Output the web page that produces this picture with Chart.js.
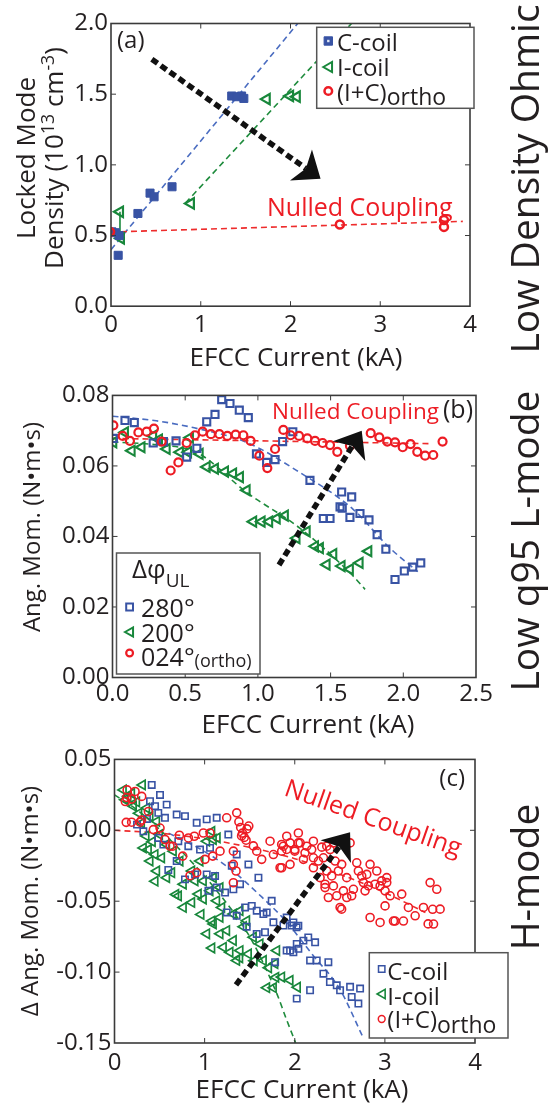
<!DOCTYPE html>
<html>
<head>
<meta charset="utf-8">
<script src="https://cdn.jsdelivr.net/npm/chart.js@4.4.1/dist/chart.umd.min.js"></script>
<style>
    body { margin: 0; background: #fff; width: 553px; height: 1106px; position: relative; overflow: hidden; font-family: "Open Sans", "Noto Sans", sans-serif; color: #231f20; }
    canvas { position: absolute; left: 0; }
    .rot { position: absolute; transform: translate(-50%, -50%) rotate(-90deg); white-space: nowrap; line-height: 1; }
    .sup { font-size: 0.68em; position: relative; top: -0.5em; }
</style>
</head>
<body>
<canvas id="chartA" width="553" height="378" style="top:0"></canvas>
<canvas id="chartB" width="553" height="364" style="top:378px"></canvas>
<canvas id="chartC" width="553" height="364" style="top:742px"></canvas>

<div class="rot" style="left:25px;top:158px;font-size:26px">Locked Mode</div>
<div class="rot" style="left:53px;top:158px;font-size:26px">Density (10<span class="sup">13</span> cm<span class="sup">-3</span>)</div>
<div class="rot" style="left:31px;top:527px;font-size:24px">Ang. Mom. (N&#8226;m&#8226;s)</div>
<div class="rot" style="left:29px;top:901px;font-size:24px">&Delta; Ang. Mom. (N&#8226;m&#8226;s)</div>

<div class="rot" style="left:523px;top:179px;font-size:39px">Low Density Ohmic</div>
<div class="rot" style="left:523px;top:541px;font-size:39px">Low q95 L-mode</div>
<div class="rot" style="left:523px;top:877px;font-size:39px">H-mode</div>

<script>
// ---- panel (a): locked mode density, low density ohmic ----
const aTicksX = [0, 1, 2, 3, 4];
const aTicksY = [0, 0.5, 1.0, 1.5, 2.0];
const aCcoil = [[0.01,0.526],[0.05,0.52],[0.09,0.50],[0.08,0.36],[0.30,0.656],[0.435,0.80],[0.48,0.774],[0.68,0.845],
    [1.345,1.487],[1.40,1.482],[1.455,1.487],[1.48,1.47]];
const aIcoil = [[0.10,0.668],[0.11,0.48],[0.89,0.727],[1.735,1.465],[1.995,1.487],[2.07,1.482]];
const aIcoilErr = [[0.10,0.668],[0.10,0.47]];
const aOrtho = [[-0.01,0.526],[2.55,0.578],[3.71,0.609],[3.71,0.561]];
const aFitC = [[0,0.40],[2.08,2.0]];
const aFitI = [[0.83,0.73],[2.68,2.0]];
const aFitO = [[0,0.525],[3.92,0.60]];
const aArrow = [[0.455,1.747],[2.335,0.901]];

// ---- panel (b): angular momentum, low q95 L-mode ----
const bTicksX = [0, 0.5, 1.0, 1.5, 2.0, 2.5];
const bTicksY = [0, 0.02, 0.04, 0.06, 0.08];
const b280 = [[0.006,0.0678],[0.086,0.0729],[0.15,0.0723],[0.28,0.0665],[0.35,0.0669],[0.437,0.0671],[0.51,0.0625],
    [0.58,0.065],[0.648,0.0725],[0.705,0.0746],[0.751,0.0788],[0.808,0.0777],[0.872,0.0758],[0.934,0.0737],
    [0.99,0.0634],[1.06,0.061],[1.118,0.0618],[1.17,0.0669],[1.24,0.0697],[1.358,0.0559],[1.45,0.0451],
    [1.496,0.0451],[1.576,0.0526],[1.645,0.0512],[1.565,0.0484],[1.58,0.048],[1.633,0.0454],[1.702,0.0465],
    [1.764,0.0447],[1.82,0.0405],[1.88,0.0364],[1.943,0.0278],[2.007,0.0302],[2.065,0.0313],[2.12,0.0325]];
const b200 = [[0.006,0.0667],[0.086,0.0695],[0.132,0.0643],[0.2,0.0653],[0.28,0.0685],[0.32,0.0675],[0.373,0.0648],
    [0.464,0.0639],[0.52,0.0639],[0.533,0.068],[0.6,0.0634],[0.648,0.0597],[0.705,0.0592],[0.774,0.0584],
    [0.83,0.0578],[0.877,0.0568],[0.923,0.0531],[0.968,0.0442],[1.026,0.0442],[1.078,0.0442],[1.13,0.0451],
    [1.186,0.0459],[1.266,0.0395],[1.336,0.0414],[1.393,0.0372],[1.427,0.0367],[1.473,0.032],[1.519,0.035],
    [1.576,0.0316],[1.633,0.0307],[1.70,0.0325],[1.76,0.0358]];
const b024 = [[0.006,0.0715],[0.07,0.0685],[0.12,0.0671],[0.178,0.0695],[0.235,0.0697],[0.285,0.0706],[0.338,0.0669],
    [0.4,0.0587],[0.453,0.061],[0.51,0.0665],[0.567,0.0687],[0.62,0.0697],[0.677,0.069],[0.735,0.069],[0.79,0.0685],
    [0.847,0.0689],[0.9,0.0687],[0.95,0.0671],[1.01,0.0629],[1.065,0.0594],[1.118,0.0648],[1.175,0.0702],
    [1.225,0.0687],[1.283,0.0685],[1.34,0.0678],[1.393,0.0671],[1.445,0.0665],[1.496,0.0659],[1.546,0.064],
    [1.633,0.0657],[1.776,0.0693],[1.835,0.0681],[1.89,0.0669],[1.943,0.0667],[1.996,0.0653],[2.05,0.0662],
    [2.096,0.064],[2.15,0.0629],[2.206,0.0631],[2.27,0.0669]];
const bFit280 = [[0,0.0741],[0.3,0.0728],[0.562,0.0708],[0.926,0.0666],[1.29,0.0581],[1.655,0.0477],[1.9,0.037],[2.1,0.030]];
const bFit200 = [[0,0.0668],[0.3,0.066],[0.58,0.0638],[0.926,0.0524],[1.29,0.0423],[1.645,0.0292],[1.737,0.025]];
const bFit024 = [[0,0.0678],[2.2,0.0663]];
const bArrow = [[1.145,0.0319],[1.714,0.070]];

// ---- panel (c): change of angular momentum, H-mode ----
const cTicksX = [0, 1, 2, 3, 4];
const cTicksY = [-0.15, -0.10, -0.05, 0, 0.05];
const cCcoil = [[0.413,0.032],[0.505,0.0249],[0.394,0.0205],[0.45,0.017],[0.579,0.0181],[0.486,0.0123],[0.56,0.0088],
    [0.69,0.0111],[0.782,0.01],[0.912,0.0053],[1.023,0.0077],[1.134,0.0088],[0.32,-0.0007],[0.486,-0.0054],
    [0.542,-0.0101],[0.708,-0.0077],[0.819,-0.0112],[0.949,-0.0136],[1.06,-0.0124],[0.597,-0.028],[0.69,-0.0217],
    [0.782,-0.0346],[0.894,-0.0311],[1.023,-0.0311],[1.116,-0.0322],[1.263,-0.003],[1.356,-0.017],[1.301,-0.025],
    [1.486,-0.0241],[1.597,-0.0334],[1.042,-0.0427],[1.134,-0.0404],[1.227,-0.0439],[1.319,-0.0416],[1.393,-0.038],
    [1.245,-0.0579],[1.356,-0.0603],[1.449,-0.0544],[1.523,-0.0533],[1.578,-0.0567],[1.652,-0.0591],[1.689,-0.0579],
    [1.744,-0.0497],[1.467,-0.068],[1.578,-0.0731],[1.67,-0.0719],[1.763,-0.0649],[1.874,-0.0672],[1.966,-0.0672],
    [2.02,-0.0684],[1.948,-0.0848],[2.022,-0.0801],[1.782,-0.093],[2.022,-0.1187],[1.91,-0.0615],[1.985,-0.065],
    [2.04,-0.0673],[1.91,-0.0848],[1.985,-0.086],[2.04,-0.0836],[2.096,-0.0778],[2.15,-0.0755],[2.226,-0.079],
    [2.17,-0.0918],[2.244,-0.0918],[2.318,-0.1011],[2.373,-0.093],[2.39,-0.107],[2.466,-0.1093],[2.503,-0.1128],
    [2.614,-0.1104],[2.725,-0.1116],[2.632,-0.1175],[2.706,-0.1222],[2.17,-0.1128],[0.25,0.004],[0.36,0.008]];
const cIcoil = [[0.098,0.0285],[0.19,0.026],[0.31,0.032],[0.117,0.0215],[0.246,0.02],[0.357,0.0157],[0.394,0.0098],
    [0.468,0.0063],[0.32,-0.0124],[0.376,-0.0136],[0.45,-0.0171],[0.523,-0.0194],[0.394,-0.0217],[0.579,-0.01],
    [0.653,-0.0147],[0.727,-0.0217],[0.468,-0.0287],[0.579,-0.0334],[0.635,-0.0299],[0.45,-0.0359],[0.71,-0.0463],
    [0.764,-0.038],[0.857,-0.0287],[0.949,-0.0217],[1.023,-0.0077],[1.097,-0.0065],[0.764,-0.0544],[0.857,-0.0509],
    [0.93,-0.045],[0.986,-0.0485],[1.06,-0.0427],[1.134,-0.0497],[1.19,-0.0544],[1.171,-0.0614],[1.097,-0.066],
    [1.023,-0.073],[1.171,-0.073],[1.245,-0.0707],[1.319,-0.0777],[1.208,-0.0825],[1.282,-0.086],[1.393,-0.0848],
    [1.356,-0.0918],[1.486,-0.0872],[1.541,-0.0754],[1.615,-0.0801],[1.652,-0.0918],[1.43,-0.068],[1.319,-0.0591],
    [1.393,-0.0567],[1.467,-0.0638],[1.097,-0.0334],[1.171,-0.0404],[0.986,-0.0357],[0.894,-0.0357],[1.689,-0.111],
    [1.763,-0.111],[1.855,-0.1035],[1.8,-0.0848],[1.948,-0.1058],[2.03,-0.1107],[1.79,-0.1037],[1.08,-0.0008],
    [1.14,-0.0054],[0.15,0.024],[0.21,0.017],[0.27,0.012],[0.30,0.005],[0.35,-0.004],[0.42,-0.008],[0.50,-0.003],
    [0.68,-0.0452],[0.96,-0.0593],[1.08,-0.064],[1.08,-0.083],[1.39,-0.09],[1.55,-0.092],[1.71,-0.097],[1.78,-0.094]];
const cOrtho = [[0.135,0.0231],[0.19,0.022],[0.228,0.0274],[0.302,0.0239],[0.19,0.0057],[0.283,0.0057],[0.30,0.0072],
    [0.376,0.0133],[0.431,0.0005],[0.505,0.0016],[0.56,-0.0065],[0.616,-0.0112],[0.646,-0.0112],[0.72,-0.0035],
    [0.757,-0.0182],[0.82,-0.0054],[0.886,-0.0042],[0.838,-0.032],[0.912,-0.0299],[0.986,-0.0019],[1.06,-0.0019],
    [1.004,-0.0205],[1.09,-0.0182],[1.171,-0.0147],[1.245,0.0088],[1.319,-0.0147],[1.319,-0.024],[1.319,-0.037],
    [1.356,0.0123],[1.38,0.006],[1.40,0.002],[1.42,-0.002],[1.44,-0.005],[1.46,-0.007],[1.41,-0.004],[1.47,0.001],
    [1.49,0.003],[1.349,-0.0287],[1.541,-0.011],[1.578,-0.0147],[1.633,-0.0205],[1.726,-0.0077],[1.763,-0.0171],
    [1.855,-0.0147],[1.855,-0.01],[1.91,-0.0135],[1.855,-0.0264],[1.948,-0.024],[2.0,-0.0147],[2.04,-0.0089],
    [1.874,-0.0112],[1.948,-0.0089],[2.0,-0.0136],[2.06,-0.0089],[2.133,-0.0112],[2.114,-0.0159],[2.188,-0.0136],
    [1.837,-0.0264],[2.207,-0.0194],[2.207,-0.0264],[2.263,-0.0217],[2.318,-0.0194],[2.3,-0.0119],[2.392,-0.0136],
    [2.43,-0.0089],[2.281,-0.0334],[2.355,-0.0287],[2.41,-0.0322],[2.336,-0.038],[2.336,-0.0404],[2.429,-0.0392],
    [2.373,-0.0474],[2.466,-0.0462],[2.577,-0.0474],[2.54,-0.0427],[2.503,-0.0544],[2.52,-0.0556],[2.448,-0.0217],
    [2.484,-0.0287],[2.521,-0.024],[2.577,-0.0334],[2.614,-0.0089],[2.688,-0.0229],[2.706,-0.0287],[2.743,-0.0322],
    [2.762,-0.0369],[2.799,-0.0311],[2.78,-0.0427],[2.651,-0.0416],[2.632,-0.0462],[2.817,-0.0392],[2.891,-0.038],
    [2.947,-0.0392],[3.021,-0.0369],[3.002,-0.0427],[2.836,-0.0615],[2.947,-0.065],[3.002,-0.0533],[3.095,-0.064],
    [3.113,-0.064],[3.206,-0.064],[3.058,-0.0462],[3.187,-0.045],[3.261,-0.0544],[3.336,-0.0603],[3.428,-0.0544],
    [3.54,-0.0661],[3.613,-0.0556],[3.502,-0.0369],[3.576,-0.0416],[2.836,-0.024],[2.91,-0.0287],[3.021,-0.0334],
    [2.965,-0.0357],[1.911,-0.0042],[2.04,-0.0019],[2.207,-0.0077],[2.355,-0.0112],[2.096,-0.0205],[0.12,0.0203],
    [0.14,0.0285],[0.13,0.0056],[3.53,-0.0557],[3.48,-0.066]];
const cFitC = [[0.6,-0.002],[1.0,-0.015],[1.3,-0.028],[1.6,-0.045],[1.9,-0.064],[2.2,-0.088],[2.5,-0.112],[2.75,-0.145]];
const cFitI = [[0.0,0.025],[0.3,0.012],[0.7,-0.012],[1.1,-0.04],[1.5,-0.075],[1.8,-0.115],[1.9,-0.132],[2.01,-0.15]];
const cFitO = [[0,0],[0.5,-0.002],[1,-0.006],[1.5,-0.012],[2,-0.02],[2.5,-0.031],[3,-0.044],[3.45,-0.058]];
const cArrow = [[1.348,-0.109],[2.614,-0.0014]];

const INK = '#231f20';
const BLUE = '#3853a4', GREEN = '#18873b', RED = '#ed1c24';
const FIT_BLUE = '#4a6cc0', FIT_GREEN = '#1e8b3c', FIT_RED = '#ee2c2c';
const FONT = '"Open Sans", "Noto Sans", sans-serif';

const toXY = arr => arr.map(([x, y]) => ({ x, y }));

function scatterSet(arr, style, color, r, bw, filled) {
    return {
        data: toXY(arr),
        showLine: false,
        pointStyle: style,
        rotation: style === 'triangle' ? -90 : 0,
        pointRadius: r,
        pointHoverRadius: r,
        pointBorderWidth: bw,
        pointBorderColor: color,
        pointBackgroundColor: filled ? color : 'rgba(255,255,255,0)'
    };
}

function fitSet(arr, color, solid) {
    return {
        data: toXY(arr),
        showLine: true,
        pointRadius: 0,
        borderColor: color,
        borderWidth: 1.6,
        borderDash: solid ? [] : [6, 4],
        cubicInterpolationMode: 'monotone',
        fill: false
    };
}

function marker(ctx, kind, x, y, r, color, lw, filled) {
    ctx.save();
    ctx.strokeStyle = color;
    ctx.fillStyle = color;
    ctx.lineWidth = lw;
    ctx.beginPath();
    if (kind === 'rect') {
        ctx.rect(x - r, y - r, 2 * r, 2 * r);
    } else if (kind === 'tri') {
        ctx.moveTo(x - r, y);
        ctx.lineTo(x + r * 0.75, y - r);
        ctx.lineTo(x + r * 0.75, y + r);
        ctx.closePath();
    } else {
        ctx.arc(x, y, r, 0, Math.PI * 2);
    }
    if (filled) ctx.fill();
    ctx.stroke();
    ctx.restore();
}

// text made of parts [text, size, dy]
function richText(ctx, x, y, parts) {
    let cx = x;
    parts.forEach(([t, size, dy]) => {
        ctx.font = `${size}px ${FONT}`;
        ctx.fillText(t, cx, y + (dy || 0));
        cx += ctx.measureText(t).width;
    });
}

function drawArrow(ctx, xs, ys, pts) {
    const x0 = xs.getPixelForValue(pts[0][0]), y0 = ys.getPixelForValue(pts[0][1]);
    const x1 = xs.getPixelForValue(pts[1][0]), y1 = ys.getPixelForValue(pts[1][1]);
    const ang = Math.atan2(y1 - y0, x1 - x0);
    const c = Math.cos(ang), s = Math.sin(ang);
    const L = 24, W = 19, N = 6;
    const bx = x1 - L * c, by = y1 - L * s;
    const nx = bx + N * c, ny = by + N * s;
    ctx.save();
    ctx.strokeStyle = '#111';
    ctx.lineWidth = 5.5;
    ctx.setLineDash([7, 4]);
    ctx.beginPath();
    ctx.moveTo(x0, y0);
    ctx.lineTo(nx, ny);
    ctx.stroke();
    ctx.setLineDash([]);
    ctx.fillStyle = '#111';
    ctx.beginPath();
    ctx.moveTo(x1, y1);
    ctx.lineTo(bx - W * s, by + W * c);
    ctx.lineTo(nx, ny);
    ctx.lineTo(bx + W * s, by - W * c);
    ctx.closePath();
    ctx.fill();
    ctx.restore();
}

function drawLegend(ctx, lg) {
    ctx.save();
    ctx.fillStyle = '#fff';
    ctx.fillRect(lg.box[0], lg.box[1], lg.box[2], lg.box[3]);
    ctx.strokeStyle = '#555';
    ctx.lineWidth = 1.5;
    ctx.strokeRect(lg.box[0], lg.box[1], lg.box[2], lg.box[3]);
    ctx.fillStyle = INK;
    ctx.textAlign = 'left';
    ctx.textBaseline = 'alphabetic';
    if (lg.title) richText(ctx, lg.title.x, lg.title.y, lg.title.parts);
    lg.rows.forEach(row => {
        const m = row.mark;
        marker(ctx, m[0], lg.markX, row.my, m[1], m[2], m[3], m[4]);
        if (m[5]) {
            ctx.fillStyle = '#dfe6f5';
            ctx.fillRect(lg.markX - 1.2, row.my - 1.2, 2.4, 2.4);
        }
        ctx.fillStyle = INK;
        richText(ctx, lg.textX, row.ty, row.parts);
    });
    ctx.restore();
}

const decor = {
    id: 'decor',
    afterDatasetsDraw(chart, args, o) {
        const { ctx, chartArea: a, scales: { x, y } } = chart;
        ctx.save();
        if (o.arrow) drawArrow(ctx, x, y, o.arrow);

        // frame with inward ticks on all sides
        ctx.strokeStyle = '#3a3a3a';
        ctx.lineWidth = 1.6;
        ctx.strokeRect(a.left, a.top, a.right - a.left, a.bottom - a.top);
        ctx.lineWidth = 1;
        const len = 5;
        ctx.beginPath();
        x.ticks.forEach(t => {
            const px = x.getPixelForValue(t.value);
            if (px < a.left + 2 || px > a.right - 2) return;
            ctx.moveTo(px, a.bottom); ctx.lineTo(px, a.bottom - len);
            ctx.moveTo(px, a.top); ctx.lineTo(px, a.top + len);
        });
        y.ticks.forEach(t => {
            const py = y.getPixelForValue(t.value);
            if (py < a.top + 2 || py > a.bottom - 2) return;
            ctx.moveTo(a.left, py); ctx.lineTo(a.left + len, py);
            ctx.moveTo(a.right, py); ctx.lineTo(a.right - len, py);
        });
        ctx.stroke();

        // x axis title
        ctx.fillStyle = INK;
        ctx.font = `26px ${FONT}`;
        ctx.textAlign = 'center';
        ctx.textBaseline = 'alphabetic';
        ctx.fillText('EFCC Current (kA)', o.titleX, o.titleY);

        // notes
        o.notes.forEach(n => {
            ctx.save();
            ctx.fillStyle = n.color || INK;
            ctx.font = `${n.size}px ${FONT}`;
            ctx.textAlign = n.align || 'left';
            ctx.translate(n.x, n.y);
            if (n.rot) ctx.rotate(n.rot * Math.PI / 180);
            ctx.fillText(n.text, 0, 0);
            ctx.restore();
        });

        if (o.legend) drawLegend(ctx, o.legend);
        ctx.restore();
    }
};

function makeChart(id, o) {
    const tickFont = { family: FONT, size: 24 };
    return new Chart(document.getElementById(id), {
        type: 'scatter',
        data: { datasets: o.datasets },
        options: {
            responsive: false,
            animation: false,
            events: [],
            layout: { padding: o.padding },
            plugins: {
                legend: { display: false },
                tooltip: { enabled: false },
                decor: o.decor
            },
            scales: {
                x: {
                    type: 'linear', min: o.xRange[0], max: o.xRange[1],
                    grid: { display: false, drawTicks: false }, border: { display: false },
                    ticks: { font: tickFont, color: INK, padding: o.xPad, maxRotation: 0, autoSkip: false,
                        callback: v => v.toFixed(o.xDec) },
                    afterBuildTicks: s => { s.ticks = o.xTicks.map(v => ({ value: v })); },
                    afterFit: s => { s.height = o.xHeight; }
                },
                y: {
                    type: 'linear', min: o.yRange[0], max: o.yRange[1],
                    grid: { display: false, drawTicks: false }, border: { display: false },
                    ticks: { font: tickFont, color: INK, padding: 3,
                        callback: v => v.toFixed(o.yDec) },
                    afterBuildTicks: s => { s.ticks = o.yTicks.map(v => ({ value: v })); },
                    afterFit: s => { s.width = o.yWidth; }
                }
            }
        },
        plugins: [decor]
    });
}

// panel (a)
makeChart('chartA', {
    xRange: [0, 4], yRange: [0, 2], xTicks: aTicksX, yTicks: aTicksY, xDec: 0, yDec: 1,
    padding: { top: 23.5, right: 83, left: 0, bottom: 0 }, yWidth: 111, xHeight: 71.8, xPad: 5,
    datasets: [
        scatterSet(aOrtho, 'circle', RED, 4, 2.5, false),
        scatterSet(aCcoil, 'rect', BLUE, 5.7, 1, true),
        scatterSet(aIcoil, 'triangle', GREEN, 6, 2.2, false),
        fitSet(aIcoilErr, GREEN, true),
        fitSet(aFitO, FIT_RED),
        fitSet(aFitC, FIT_BLUE),
        fitSet(aFitI, FIT_GREEN)
    ],
    decor: {
        arrow: aArrow, titleX: 296, titleY: 366,
        notes: [
            { text: '(a)', x: 117, y: 47.5, size: 24 },
            { text: 'Nulled Coupling', x: 267, y: 216, size: 25, color: RED }
        ],
        legend: {
            box: [316.7, 27.3, 157.3, 81], markX: 328.3, textX: 337,
            rows: [
                { my: 41, ty: 50.5, mark: ['rect', 4.2, BLUE, 1, true, true], parts: [['C-coil', 24]] },
                { my: 67, ty: 76, mark: ['tri', 5, GREEN, 2, false], parts: [['I-coil', 24]] },
                { my: 91, ty: 100.5, mark: ['circle', 3.8, RED, 2.5, false], parts: [['(I+C)', 24], ['ortho', 23, 4.5]] }
            ]
        }
    }
});

// panel (b)
makeChart('chartB', {
    xRange: [0, 2.5], yRange: [0, 0.08], xTicks: bTicksX, yTicks: bTicksY, xDec: 1, yDec: 2,
    padding: { top: 14.7, right: 77, left: 0, bottom: 0 }, yWidth: 112.5, xHeight: 64.5, xPad: 2,
    datasets: [
        scatterSet(b024, 'circle', RED, 4, 2.2, false),
        scatterSet(b280, 'rect', BLUE, 5, 2.1, false),
        scatterSet(b200, 'triangle', GREEN, 5.8, 2.1, false),
        fitSet(bFit024, FIT_RED),
        fitSet(bFit280, FIT_BLUE),
        fitSet(bFit200, FIT_GREEN)
    ],
    decor: {
        arrow: bArrow, titleX: 308, titleY: 355,
        notes: [
            { text: '(b)', x: 473, y: 39.5, size: 25, align: 'right' },
            { text: 'Nulled Coupling', x: 272, y: 41, size: 22.5, color: RED }
        ],
        legend: {
            box: [116.5, 175, 143.5, 121], markX: 129.6, textX: 141,
            title: { x: 132, y: 200, parts: [['\u0394\u03C6', 26], ['UL', 19, 9]] },
            rows: [
                { my: 229, ty: 239, mark: ['rect', 3.4, BLUE, 2, false], parts: [['280\u00B0', 25]] },
                { my: 254, ty: 264, mark: ['tri', 4.6, GREEN, 2, false], parts: [['200\u00B0', 25]] },
                { my: 275, ty: 288, mark: ['circle', 3.4, RED, 2.2, false], parts: [['024\u00B0', 25], ['(ortho)', 18, 1]] }
            ]
        }
    }
});

// panel (c)
makeChart('chartC', {
    xRange: [0, 4], yRange: [-0.15, 0.05], xTicks: cTicksX, yTicks: cTicksY, xDec: 0, yDec: 2,
    padding: { top: 15.7, right: 78, left: 0, bottom: 0 }, yWidth: 114.5, xHeight: 63, xPad: 6,
    datasets: [
        scatterSet(cOrtho, 'circle', RED, 4, 1.6, false),
        scatterSet(cCcoil, 'rect', BLUE, 4.5, 1.6, false),
        scatterSet(cIcoil, 'triangle', GREEN, 5.4, 1.7, false),
        fitSet(cFitO, FIT_RED),
        fitSet(cFitC, FIT_BLUE),
        fitSet(cFitI, FIT_GREEN)
    ],
    decor: {
        arrow: cArrow, titleX: 302, titleY: 356,
        notes: [
            { text: '(c)', x: 465, y: 44, size: 24, align: 'right' },
            { text: 'Nulled Coupling', x: 283, y: 53, size: 25, color: RED, rot: 19.4 }
        ],
        legend: {
            box: [369.3, 210.7, 138.7, 85.3], markX: 381.7, textX: 387.3,
            rows: [
                { my: 227, ty: 238, mark: ['rect', 3.2, BLUE, 1.5, false], parts: [['C-coil', 24]] },
                { my: 252, ty: 263, mark: ['tri', 4.6, GREEN, 1.6, false], parts: [['I-coil', 24]] },
                { my: 277, ty: 286, mark: ['circle', 3.4, RED, 1.5, false], parts: [['(I+C)', 24], ['ortho', 23, 5]] }
            ]
        }
    }
});
</script>
</body>
</html>
